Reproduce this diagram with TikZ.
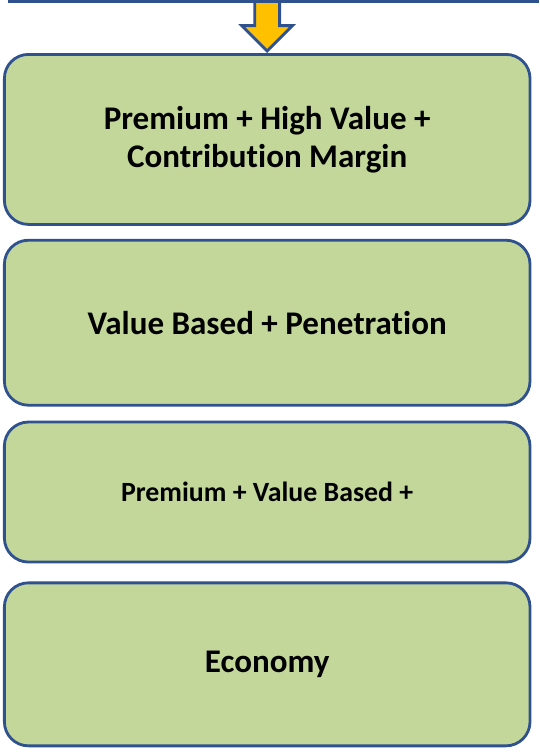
\documentclass[tikz,border=0pt]{standalone}
\usepackage{fontspec}
\setmainfont{Carlito}[Ligatures=NoCommon]
\usepackage{tikz}
\usetikzlibrary{positioning}
\usetikzlibrary{shapes.arrows}

\definecolor{tiergreen}{HTML}{C4D79B}
\definecolor{tierblue}{HTML}{2F528F}
\definecolor{arrowgold}{HTML}{FFC000}

\begin{document}
\begin{tikzpicture}[
	tier/.style = {draw = tierblue, line width = 2pt, fill = tiergreen, rounded corners = 0.6cm, minimum width = 13.14cm, align = center, font = \bfseries\fontsize{23.5}{27}\selectfont}]
	\useasboundingbox (0,0) rectangle (13.475,-18.875);
	\node[tier, minimum height = 4.25cm, anchor = north] (premium) at (6.68,-1.325) {Premium + High Value +\\ Contribution Margin};
	\node[tier, minimum height = 4.125cm, below = 0.325cm of premium] (value) {Value Based + Penetration};
	\node[tier, minimum height = 3.5cm, below = 0.35cm of value, font = \bfseries\fontsize{19.8}{23}\selectfont] (mixed) {Premium + Value Based +};
	\node[tier, minimum height = 4.075cm, below = 0.45cm of mixed] (economy) {Economy};
	% arrow feeding into the first tier
	\node[single arrow, draw = tierblue, line width = 2pt, fill = arrowgold, inner xsep = 0pt, inner ysep = 0.275cm, minimum height = 1.35cm, single arrow head extend = 0.325cm, rotate = 270, anchor = tip] (feed) at (premium.north) {};
	\coordinate (rimleft) at (0.2,-0.03);
	\coordinate (rimright) at (13.475,-0.03);
	\draw[tierblue, line width = 2pt] (rimleft) -- (rimright);
\end{tikzpicture}
\end{document}
